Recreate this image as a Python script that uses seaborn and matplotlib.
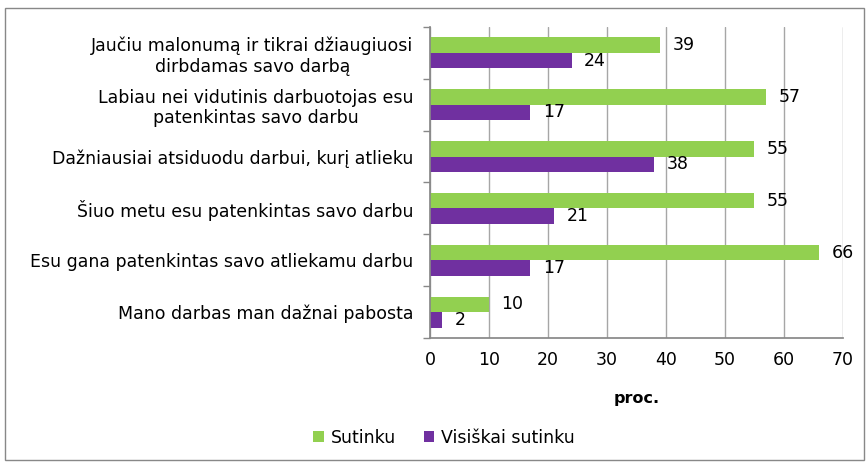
"""Darbo pasitenkinimas - horizontali stulpelinė diagrama."""
import matplotlib
matplotlib.use("Agg")
import matplotlib.pyplot as plt
import numpy as np
import pandas as pd
import seaborn as sns
from matplotlib.patches import Rectangle

statements = [
    "Jaučiu malonumą ir tikrai džiaugiuosi\ndirbdamas savo darbą",
    "Labiau nei vidutinis darbuotojas esu\npatenkintas savo darbu",
    "Dažniausiai atsiduodu darbui, kurį atlieku",
    "Šiuo metu esu patenkintas savo darbu",
    "Esu gana patenkintas savo atliekamu darbu",
    "Mano darbas man dažnai pabosta",
]
sutinku = [39, 57, 55, 55, 66, 10]
visiskai = [24, 17, 38, 21, 17, 2]
series = ["Sutinku", "Visiškai sutinku"]
colors = ["#92D050", "#7030A0"]

df = pd.DataFrame({
    "teiginys": statements * 2,
    "proc": sutinku + visiskai,
    "grupe": [series[0]] * len(statements) + [series[1]] * len(statements),
})

sns.set_theme(style="white")
plt.rcParams["font.family"] = ["DejaVu Sans"]
plt.rcParams.update({"text.color": "black", "axes.labelcolor": "black",
                     "xtick.color": "black", "ytick.color": "black"})
FS = 12.5

fig = plt.figure(figsize=(8.67, 4.62), dpi=100)
ax = fig.add_axes([0.496, 0.268, 0.476, 0.674])
sns.barplot(data=df, y="teiginys", x="proc", hue="grupe", palette=colors,
            orient="h", width=0.6, ax=ax, saturation=1, legend=True, linewidth=0)

for cont in ax.containers:
    ax.bar_label(cont, fmt="%d", padding=9, fontsize=FS, color="black")

ax.set_xlim(0, 70)
ax.set_xticks(range(0, 71, 10))
ax.set_yticks(np.arange(-0.5, len(statements), 1), minor=True)
ax.grid(axis="x", color="#a6a6a6", lw=1)
ax.set_axisbelow(True)
ax.set_ylabel("")
ax.set_xlabel("proc.", fontsize=FS - 1, fontweight="bold", labelpad=16)
ax.tick_params(axis="x", labelsize=FS, length=4, color="#888888", pad=5)
ax.tick_params(axis="y", which="major", labelsize=FS, length=0, pad=12)
ax.tick_params(axis="y", which="minor", length=5, color="#888888", left=True)
for lbl in ax.get_yticklabels():
    lbl.set_multialignment("center")
for side in ["top", "right"]:
    ax.spines[side].set_visible(False)
for side in ["left", "bottom"]:
    ax.spines[side].set_color("#888888")

handles, labels = ax.get_legend_handles_labels()
ax.get_legend().remove()
fig.legend(handles, labels, loc="center", bbox_to_anchor=(0.512, 0.052), ncol=2,
           frameon=False, fontsize=FS, handlelength=0.6, handleheight=0.6,
           handletextpad=0.4, columnspacing=1.6)

fig.add_artist(Rectangle((0.006, 0.004), 0.99, 0.978, transform=fig.transFigure,
                         fill=False, lw=1, ec="#888888"))
fig.savefig("out.png", dpi=100)
